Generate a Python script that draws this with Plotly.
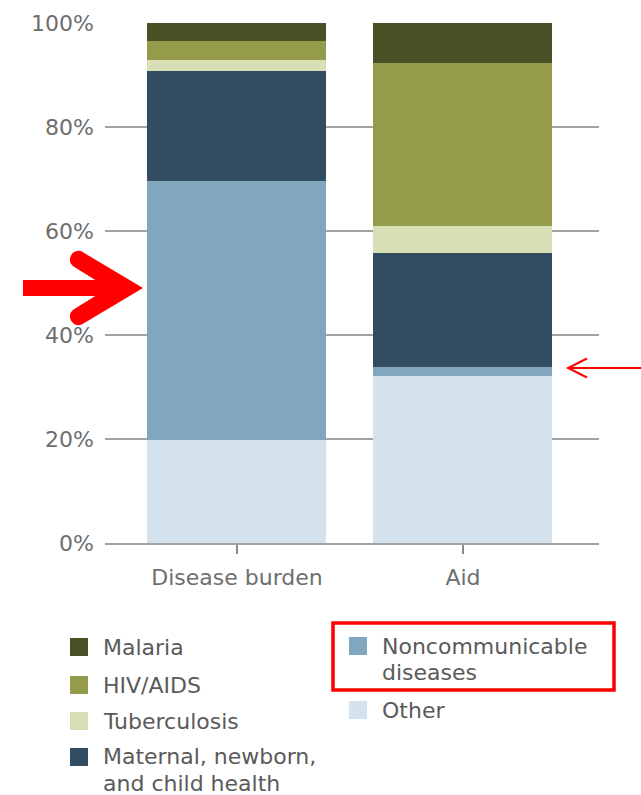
import plotly.graph_objects as go

# ---- data (percent shares) ----
categories = ["Disease burden", "Aid"]
other = [19.8, 32.1]
noncommunicable = [49.8, 1.7]
maternal = [21.2, 22.0]
tuberculosis = [2.1, 5.2]
hiv_aids = [3.6, 31.3]
malaria = [3.5, 7.7]

y_ticks = [0, 20, 40, 60, 80, 100]
y_tick_labels = ["0%", "20%", "40%", "60%", "80%", "100%"]

series_names = ["Other", "Noncommunicable<br>diseases", "Maternal, newborn,<br>and child health",
                "Tuberculosis", "HIV/AIDS", "Malaria"]
series_values = [other, noncommunicable, maternal, tuberculosis, hiv_aids, malaria]
series_colors = ["#d4e2ed", "#83a6bf", "#324d62", "#d8dfb7", "#949c4b", "#4b5126"]

# ---- layout geometry (pixels) ----
W, H = 641, 795
PL, PR, PT, PB = 105, 599, 23, 543
FONT = "DejaVu Sans"


def px(x):
    return (x - PL) / (PR - PL)


def py(y):
    return (PB - y) / (PB - PT)


fig = go.Figure()
for name, vals, color in zip(series_names, series_values, series_colors):
    fig.add_bar(x=categories, y=vals, name=name, width=0.792,
                marker=dict(color=color, line=dict(width=0)), showlegend=False)

fig.update_layout(
    width=W, height=H, barmode="stack",
    margin=dict(l=PL, r=W - PR, t=PT, b=H - PB, pad=0),
    paper_bgcolor="white", plot_bgcolor="white",
    font=dict(family=FONT, size=22, color="#6e6e6e"),
    xaxis=dict(type="category", range=[-0.584, 1.602], showgrid=False,
               showline=True, linecolor="#a3a3a3", linewidth=2,
               ticks="outside", ticklen=9, tickwidth=1.5, tickcolor="#8a8a8a",
               ticklabelstandoff=5, tickfont=dict(family=FONT, size=22, color="#6e6e6e")),
    yaxis=dict(range=[0, 100], tickvals=y_ticks, ticktext=y_tick_labels,
               showgrid=True, gridcolor="#a3a3a3", gridwidth=2, zeroline=False,
               showline=False, ticks="", ticklabelstandoff=10,
               tickfont=dict(family=FONT, size=22, color="#6e6e6e")),
)

# ---- legend (manual, two columns) ----
legend_order = ["Malaria", "HIV/AIDS", "Tuberculosis", "Maternal, newborn,<br>and child health",
                "Noncommunicable<br>diseases", "Other"]
legend_pos = {  # name: (swatch left px, row centre px)
    "Malaria": (70, 647), "HIV/AIDS": (70, 685), "Tuberculosis": (70, 721),
    "Maternal, newborn,<br>and child health": (70, 757),
    "Noncommunicable<br>diseases": (349, 646), "Other": (349, 710),
}
color_of = dict(zip(series_names, series_colors))
SW = 18
LINE = 26
for name in legend_order:
    sx, cy = legend_pos[name]
    fig.add_shape(type="rect", xref="paper", yref="paper",
                  x0=px(sx), x1=px(sx + SW), y0=py(cy + SW / 2), y1=py(cy - SW / 2),
                  fillcolor=color_of[name], line=dict(width=0))
    for i, line_text in enumerate(name.split("<br>")):
        fig.add_annotation(xref="paper", yref="paper", x=px(sx + 31), y=py(cy + i * LINE),
                           xanchor="left", yanchor="middle", align="left", showarrow=False,
                           text=line_text, font=dict(family=FONT, size=22, color="#5a5a5a"))

# red highlight box round the noncommunicable legend item
fig.add_shape(type="rect", xref="paper", yref="paper",
              x0=px(333), x1=px(614), y0=py(690), y1=py(623),
              line=dict(color="#ff0000", width=3.5))

# big red arrow at left
pts = [("M", [(23, 280)]), ("L", [(95.3, 280)]), ("L", [(74, 266.7)]),
       ("C", [(64.4, 260.7), (73.4, 246.3), (83, 252.3)]), ("L", [(143, 288)]),
       ("L", [(83, 323.7)]), ("C", [(73.4, 329.7), (64.4, 315.3), (74, 309.3)]),
       ("L", [(95.3, 296)]), ("L", [(23, 296)])]
path = " ".join(cmd + " " + " ".join(f"{px(x):.5f},{py(y):.5f}" for x, y in p) for cmd, p in pts) + " Z"
fig.add_shape(type="path", xref="paper", yref="paper", path=path,
              fillcolor="#ff0000", line=dict(width=0))

# thin red arrow at right
fig.add_shape(type="line", xref="paper", yref="paper",
              x0=px(568), x1=px(641), y0=py(368), y1=py(368),
              line=dict(color="#ff0000", width=2))
thin = f"M {px(587):.5f},{py(358.5):.5f} L {px(568):.5f},{py(368):.5f} L {px(587):.5f},{py(377.5):.5f}"
fig.add_shape(type="path", xref="paper", yref="paper", path=thin,
              line=dict(color="#ff0000", width=2))

fig.write_html("out.html", config={"displayModeBar": False},
               post_script="document.body.style.margin='0';document.body.style.overflow='hidden';")
